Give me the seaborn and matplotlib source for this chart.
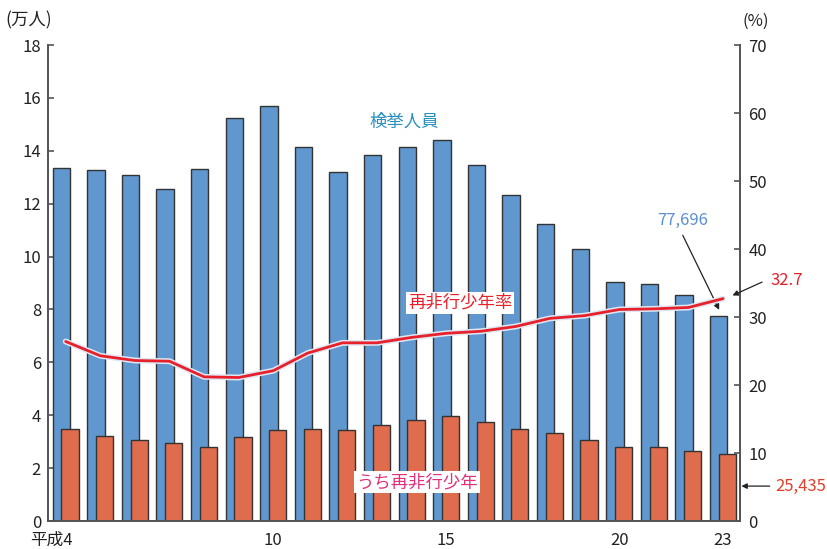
import numpy as np
import pandas as pd
import matplotlib
matplotlib.use("Agg")
import matplotlib.pyplot as plt
import matplotlib.patheffects as pe
from matplotlib.transforms import ScaledTranslation
import seaborn as sns

# Data
YEARS = list(range(4, 24))  # 平成4 .. 平成23
ARRESTED = [13.34, 13.26, 13.10, 12.57, 13.31, 15.25, 15.70, 14.15, 13.20, 13.84,
            14.15, 14.40, 13.45, 12.33, 11.25, 10.29, 9.05, 8.98, 8.55, 7.77]   # 検挙人員 (万人)
REPEAT = [3.48, 3.23, 3.05, 2.95, 2.81, 3.19, 3.44, 3.47, 3.44, 3.62,
          3.81, 3.98, 3.74, 3.48, 3.32, 3.08, 2.80, 2.79, 2.65, 2.54]       # うち再非行少年 (万人)
RATE = [26.4, 24.3, 23.6, 23.5, 21.2, 21.1, 22.1, 24.7, 26.2, 26.2,
        27.0, 27.6, 27.9, 28.6, 29.8, 30.2, 31.1, 31.2, 31.4, 32.7]         # 再非行少年率 (%)
TICK_YEARS = [4, 10, 15, 20, 23]
TICK_LABELS = ["平成4", "10", "15", "20", "23"]

BLUE = "#6097cf"
ORANGE = "#df6c4c"
RED = "#e8202a"

sns.set_theme(style="white")
plt.rcParams["font.family"] = ["Noto Sans CJK JP", "DejaVu Sans"]

df = pd.DataFrame({"year": YEARS, "arrested": ARRESTED, "repeat": REPEAT, "rate": RATE})
df["idx"] = np.arange(len(df))
off = 0.127
df["x_blue"] = df["idx"] - off
df["x_orange"] = df["idx"] + off

fig = plt.figure(figsize=(8.27, 5.49), dpi=100)
ax = fig.add_axes([48 / 827, 28 / 549, 692 / 827, 476 / 549])

sns.barplot(data=df, x="x_blue", y="arrested", native_scale=True, width=0.5,
            color=BLUE, saturation=1, edgecolor="#333333", linewidth=1, ax=ax)
sns.barplot(data=df, x="x_orange", y="repeat", native_scale=True, width=0.5,
            color=ORANGE, saturation=1, edgecolor="#333333", linewidth=1, ax=ax)

ax.set_xlim(-0.51, 19.49)
ax.set_ylim(0, 18)
ax.set_yticks(range(0, 19, 2))
ax.set_xlabel("")
ax.set_ylabel("")

ax2 = ax.twinx()
sns.lineplot(data=df, x="idx", y="rate", color=RED, linewidth=2.0, ax=ax2,
             path_effects=[pe.Stroke(linewidth=4.2, foreground="#dde8f4"), pe.Normal()])
ax2.set_ylim(0, 70)
ax2.set_yticks(range(0, 71, 10))
ax2.set_ylabel("")
ax2.set_xlabel("")

tick_pos = [YEARS.index(y) for y in TICK_YEARS]
ax.set_xticks(tick_pos)
ax.set_xticklabels(TICK_LABELS)
ax2.set_xlim(ax.get_xlim())

for a in (ax, ax2):
    for s in a.spines.values():
        s.set_color("#555555")
        s.set_linewidth(1.3)
    a.spines["top"].set_visible(False)

ax.tick_params(axis="x", length=0, pad=8, labelsize=12, labelcolor="#222222")
ax.tick_params(axis="y", direction="in", length=4, width=1.2, color="#555555",
               pad=5, labelsize=12, labelcolor="#222222")
ax2.tick_params(axis="y", direction="in", length=4, width=1.2, color="#555555",
                pad=6, labelsize=12, labelcolor="#222222")

first = ax.get_xticklabels()[0]
first.set_horizontalalignment("right")
first.set_transform(first.get_transform() + ScaledTranslation(5 / 72, 0, fig.dpi_scale_trans))

# Axis unit labels
fig.text(5 / 827, 1 - 20 / 549, "(万人)", fontsize=12.5, color="#222222", va="center", ha="left")
fig.text(742 / 827, 1 - 21 / 549, "(%)", fontsize=12, color="#222222", va="center", ha="left")

# Series labels
ax.text(9.8, 15.1, "検挙人員", fontsize=12.5, color="#2a8fc2", ha="center", va="center")
ax.text(11.4, 8.25, "再非行少年率", fontsize=12.5, color=RED, ha="center", va="center",
        bbox=dict(boxstyle="square,pad=0.12", facecolor="white", edgecolor="none"))
ax.text(10.15, 1.47, "うち再非行少年", fontsize=12.5, color="#e0307a", ha="center", va="center",
        bbox=dict(boxstyle="square,pad=0.12", facecolor="white", edgecolor="none"))

# Value callouts
arrow = dict(arrowstyle="-|>", color="#222222", lw=0.9, mutation_scale=8)
ax.text(17.84, 11.38, "77,696", fontsize=12, color="#5b8fd0", ha="center", va="center")
ax.annotate("", xy=(19 - off + 0.05, ARRESTED[-1] + 0.12), xytext=(17.8, 10.9),
            arrowprops=arrow, annotation_clip=False)
ax2.text(20.36, 35.3, "32.7", fontsize=12, color=RED, ha="left", va="center")
ax2.annotate("", xy=(19.2, 33.0), xytext=(20.2, 35.3), arrowprops=arrow, annotation_clip=False)
ax.text(20.5, 1.32, "25,435", fontsize=12, color="#e0402a", ha="left", va="center", clip_on=False)
ax.annotate("", xy=(19.45, 1.32), xytext=(20.43, 1.32), arrowprops=arrow, annotation_clip=False)

fig.savefig("out.png", dpi=100)
